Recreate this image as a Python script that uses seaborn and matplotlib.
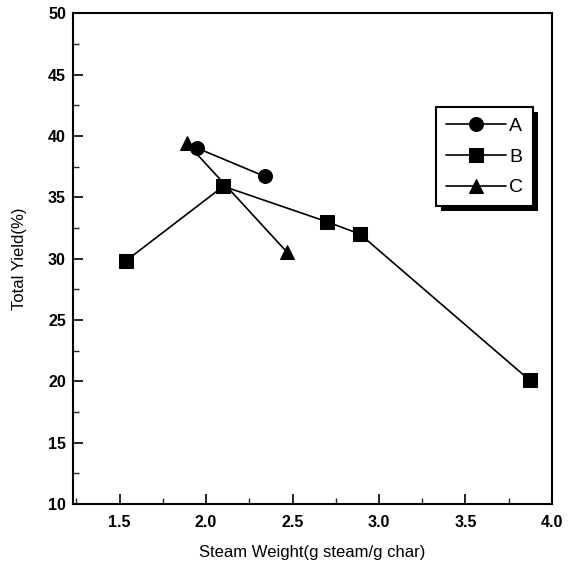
import matplotlib
matplotlib.use("Agg")
import matplotlib.pyplot as plt
import matplotlib.patches as mpatches
import matplotlib.transforms as mtransforms
import seaborn as sns
import pandas as pd

# Data
a_x = [1.95, 2.34]
a_y = [39.0, 36.7]
b_x = [1.535, 2.10, 2.70, 2.89, 3.87]
b_y = [29.8, 35.9, 33.0, 32.0, 20.1]
c_x = [1.89, 2.47]
c_y = [39.4, 30.5]
series_names = ["A", "B", "C"]
x_ticks = [1.5, 2.0, 2.5, 3.0, 3.5, 4.0]
y_ticks = [10, 15, 20, 25, 30, 35, 40, 45, 50]

sns.set_theme(style="white")
plt.rcParams['font.family'] = ['Liberation Sans', 'DejaVu Sans']

df = pd.concat([
    pd.DataFrame({"x": a_x, "y": a_y, "s": "A"}),
    pd.DataFrame({"x": b_x, "y": b_y, "s": "B"}),
    pd.DataFrame({"x": c_x, "y": c_y, "s": "C"}),
])

fig = plt.figure(figsize=(5.78, 5.76), dpi=100)
ax = fig.add_axes([0.126, 0.125, 0.829, 0.852])

markers = {"A": "o", "B": "s", "C": "^"}
sns.lineplot(data=df, x="x", y="y", hue="s", style="s", markers=markers,
             dashes=False, palette={"A": "black", "B": "black", "C": "black"},
             markersize=10, linewidth=1.2, markeredgecolor="black",
             sort=False, estimator=None, ax=ax, legend=True)

ax.set_xlim(1.23, 4.0)
ax.set_ylim(10, 50)
ax.set_xticks(x_ticks)
ax.set_xticklabels([f"{v:.1f}" for v in x_ticks])
ax.set_yticks(y_ticks)
ax.set_yticklabels([str(v) for v in y_ticks])
ax.set_xticks([1.25, 1.75, 2.25, 2.75, 3.25, 3.75], minor=True)
ax.set_yticks([12.5, 17.5, 22.5, 27.5, 32.5, 37.5, 42.5, 47.5], minor=True)
ax.tick_params(axis="both", which="major", direction="in", length=7, width=1.2,
               labelsize=11.5, colors="black", bottom=True, left=True, top=False, right=False)
ax.tick_params(axis="both", which="minor", direction="in", length=4, width=1.0,
               bottom=True, left=True, top=False, right=False)
ax.tick_params(axis="x", pad=8)
ax.tick_params(axis="y", pad=5)
for lab in ax.get_xticklabels() + ax.get_yticklabels():
    lab.set_fontweight("bold")
for sp in ax.spines.values():
    sp.set_color("black")
    sp.set_linewidth(1.5)

ax.set_xlabel("Steam Weight(g steam/g char)", fontsize=12, labelpad=11, color="black")
ax.set_ylabel("Total Yield(%)", fontsize=12, labelpad=15, color="black")

handles, labels = ax.get_legend_handles_labels()
leg = ax.legend(handles, labels, loc="upper left", bbox_to_anchor=(0.758, 0.809),
                frameon=True, fancybox=False, edgecolor="black", facecolor="white",
                framealpha=1, fontsize=14, labelcolor="black",
                handlelength=3.1, handletextpad=0.15, borderpad=0.52, labelspacing=0.68,
                borderaxespad=0)
leg.get_frame().set_linewidth(1.5)
leg.set_zorder(10)

fig.canvas.draw()
bb = leg.get_window_extent()
shadow = mpatches.Rectangle((bb.x0 + 5, bb.y0 - 5), bb.width, bb.height,
                            transform=mtransforms.IdentityTransform(),
                            facecolor="black", edgecolor="none", zorder=9, clip_on=False)
ax.add_artist(shadow)

fig.savefig("out.png", dpi=100)
